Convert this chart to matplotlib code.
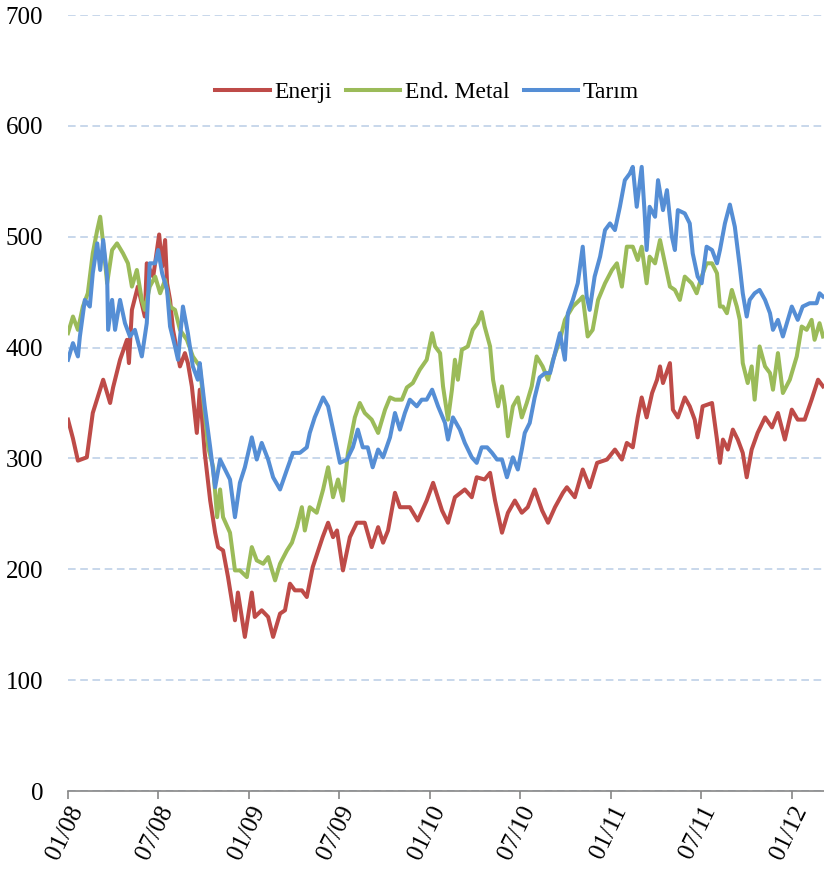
import matplotlib
matplotlib.use("Agg")
import matplotlib.pyplot as plt
import matplotlib.dates as mdates
import pandas as pd

# day offsets from 01/01/2008 and index values
enerji_days = [0, 10, 20, 38, 50, 71, 85, 91, 105, 119, 123, 129, 141, 155, 159, 172, 184, 190, 196, 200,
               206, 212, 226, 236, 242, 250, 260, 266, 276, 287, 297, 303, 313, 323, 337, 343, 357, 371, 377, 391,
               404, 414, 428, 438, 448, 458, 472, 482, 494, 514, 525, 535, 543, 555, 569, 583, 599, 613, 626, 636,
               646, 660, 670, 690, 706, 724, 737, 755, 767, 781, 801, 815, 825, 841, 852, 862, 876, 888, 902, 916,
               928, 942, 957, 969, 983, 999, 1007, 1023, 1039, 1053, 1068, 1088, 1104, 1118, 1128, 1140, 1150, 1158, 1168, 1179,
               1189, 1195, 1201, 1215, 1221, 1231, 1245, 1255, 1265, 1271, 1281, 1300, 1310, 1316, 1322, 1332, 1342, 1352, 1362, 1370,
               1380, 1392, 1407, 1421, 1433, 1447, 1461, 1473, 1487, 1501, 1514, 1524]
enerji = [335, 318, 298, 301, 341, 371, 350, 364, 389, 407, 386, 434, 455, 428, 476, 464, 502, 473, 497, 458,
          443, 416, 383, 395, 386, 365, 323, 362, 305, 262, 233, 220, 217, 193, 154, 179, 139, 179, 157, 163,
          157, 139, 160, 163, 187, 181, 181, 175, 202, 229, 242, 229, 235, 199, 229, 242, 242, 220, 238, 224,
          235, 269, 256, 256, 244, 262, 278, 253, 242, 265, 272, 265, 283, 281, 287, 262, 233, 251, 262, 251,
          256, 272, 253, 242, 256, 269, 274, 265, 290, 274, 296, 299, 308, 299, 314, 310, 337, 355, 337, 359,
          371, 383, 368, 386, 344, 337, 355, 347, 335, 319, 347, 350, 317, 296, 317, 308, 326, 317, 305, 283,
          308, 323, 337, 328, 341, 317, 344, 335, 335, 353, 371, 365]

metal_days = [0, 10, 20, 30, 40, 50, 59, 65, 71, 79, 89, 99, 111, 121, 129, 139, 149, 155, 165, 176,
              186, 196, 206, 216, 226, 240, 252, 266, 276, 283, 293, 301, 307, 313, 327, 337, 347, 361, 371, 381,
              394, 404, 418, 428, 442, 452, 462, 472, 478, 488, 502, 515, 525, 535, 545, 555, 565, 579, 589, 599,
              613, 626, 640, 650, 660, 674, 684, 696, 710, 724, 735, 741, 751, 757, 767, 775, 781, 787, 795, 807,
              817, 827, 835, 841, 852, 858, 868, 876, 882, 888, 898, 908, 916, 926, 936, 946, 958, 969, 979, 993,
              1003, 1019, 1033, 1039, 1049, 1059, 1070, 1084, 1098, 1108, 1118, 1128, 1140, 1150, 1158, 1168, 1174, 1185, 1195, 1205,
              1215, 1225, 1235, 1245, 1259, 1269, 1279, 1289, 1300, 1310, 1316, 1322, 1330, 1340, 1350, 1356, 1362, 1372, 1380, 1386,
              1396, 1407, 1417, 1423, 1433, 1443, 1457, 1471, 1481, 1491, 1501, 1507, 1517, 1524]
metal = [413, 428, 416, 437, 449, 485, 506, 518, 494, 458, 488, 494, 485, 476, 455, 470, 443, 434, 455, 464,
         449, 461, 437, 434, 416, 407, 392, 383, 341, 310, 292, 247, 272, 247, 233, 199, 199, 193, 220, 208,
         205, 211, 190, 205, 217, 224, 238, 256, 235, 256, 251, 272, 292, 265, 281, 262, 305, 337, 350, 341,
         335, 323, 344, 355, 353, 353, 364, 368, 380, 389, 413, 401, 395, 365, 335, 362, 389, 371, 398, 401,
         416, 422, 432, 419, 401, 371, 347, 365, 347, 320, 347, 355, 337, 350, 365, 392, 383, 371, 389, 407,
         425, 437, 443, 446, 410, 416, 443, 458, 470, 476, 455, 491, 491, 479, 491, 458, 482, 476, 497, 476,
         455, 452, 443, 464, 458, 449, 464, 476, 476, 467, 437, 437, 431, 452, 437, 425, 386, 368, 383, 353,
         401, 383, 377, 362, 395, 359, 371, 392, 419, 416, 425, 407, 422, 410]

tarim_days = [0, 10, 20, 24, 34, 44, 50, 59, 65, 71, 79, 81, 89, 95, 105, 115, 125, 135, 149, 159,
              165, 176, 182, 190, 200, 206, 216, 222, 232, 242, 252, 262, 266, 276, 287, 297, 307, 317, 327, 337,
              347, 357, 371, 381, 391, 404, 414, 428, 442, 454, 468, 482, 488, 498, 515, 525, 535, 549, 563, 575,
              585, 595, 605, 615, 626, 636, 650, 660, 670, 680, 690, 704, 714, 724, 735, 747, 761, 767, 777, 791,
              801, 815, 825, 835, 846, 856, 866, 876, 886, 898, 908, 916, 922, 932, 942, 952, 963, 973, 983, 993,
              1003, 1009, 1019, 1029, 1039, 1047, 1053, 1063, 1074, 1084, 1094, 1104, 1114, 1124, 1134, 1140, 1148, 1158, 1164, 1168,
              1174, 1185, 1191, 1201, 1209, 1219, 1225, 1231, 1245, 1255, 1261, 1271, 1279, 1289, 1300, 1310, 1316, 1326, 1336, 1346,
              1356, 1362, 1370, 1376, 1386, 1396, 1407, 1417, 1423, 1433, 1443, 1451, 1461, 1473, 1483, 1497, 1511, 1517, 1524]
tarim = [389, 404, 392, 410, 443, 437, 467, 494, 470, 497, 464, 416, 443, 416, 443, 422, 410, 416, 392, 422,
         476, 476, 488, 467, 452, 419, 401, 389, 437, 413, 383, 371, 386, 347, 310, 274, 299, 290, 281, 247,
         278, 292, 319, 299, 314, 299, 283, 272, 290, 305, 305, 310, 323, 337, 355, 347, 326, 296, 299, 310,
         326, 310, 310, 292, 308, 301, 319, 341, 326, 341, 353, 347, 353, 353, 362, 347, 332, 317, 337, 326,
         314, 301, 296, 310, 310, 305, 299, 299, 283, 301, 290, 308, 323, 332, 355, 373, 377, 377, 395, 413,
         389, 431, 443, 458, 491, 446, 434, 464, 482, 506, 512, 506, 527, 551, 557, 563, 527, 563, 521, 488,
         527, 518, 551, 524, 542, 500, 488, 524, 521, 512, 485, 464, 458, 491, 488, 476, 488, 512, 529, 509,
         473, 449, 428, 443, 449, 452, 443, 431, 416, 425, 410, 422, 437, 425, 437, 440, 440, 449, 446]

yticks = [0, 100, 200, 300, 400, 500, 600, 700]

start = pd.Timestamp("2008-01-01")


def to_dates(days):
    return start + pd.to_timedelta(days, unit="D")


plt.rcParams["font.family"] = ["Liberation Serif", "DejaVu Serif"]

fig = plt.figure(figsize=(8.24, 8.74), dpi=100)
ax = fig.add_axes([68 / 824, 83 / 874, 756 / 824, 776 / 874])

ax.plot(to_dates(enerji_days), enerji, color="#BE4B48", lw=2.9, label="Enerji", solid_joinstyle="round")
ax.plot(to_dates(metal_days), metal, color="#9BBB59", lw=2.9, label="End. Metal", solid_joinstyle="round")
ax.plot(to_dates(tarim_days), tarim, color="#558ED5", lw=2.9, label="Tarım", solid_joinstyle="round")

ax.set_ylim(0, 700)
ax.set_xlim(start, start + pd.Timedelta(days=1526))
ax.set_yticks(yticks)
ax.yaxis.grid(True, color="#B9CDE5", linestyle=(0, (5, 3)), linewidth=1.1)
ax.set_axisbelow(True)

for side in ["left", "right", "top"]:
    ax.spines[side].set_visible(False)
ax.spines["bottom"].set_color("#868686")
ax.spines["bottom"].set_linewidth(1.2)

ax.xaxis.set_major_locator(mdates.MonthLocator(bymonth=[1, 7]))
ax.xaxis.set_major_formatter(mdates.DateFormatter("%m/%y"))
ax.tick_params(axis="x", direction="out", length=6, color="#868686", width=1.2, labelsize=18, pad=2)
ax.tick_params(axis="y", length=0, labelsize=18, pad=18)
for lbl in ax.get_xticklabels():
    lbl.set_rotation(64)
    lbl.set_ha("right")
    lbl.set_va("top")
    lbl.set_rotation_mode("anchor")

ax.legend(loc="center", bbox_to_anchor=(0.475, 0.90), ncol=3, frameon=False, fontsize=17,
          handlelength=2.3, handletextpad=0.2, columnspacing=0.6)

fig.savefig("out.png", dpi=100)
